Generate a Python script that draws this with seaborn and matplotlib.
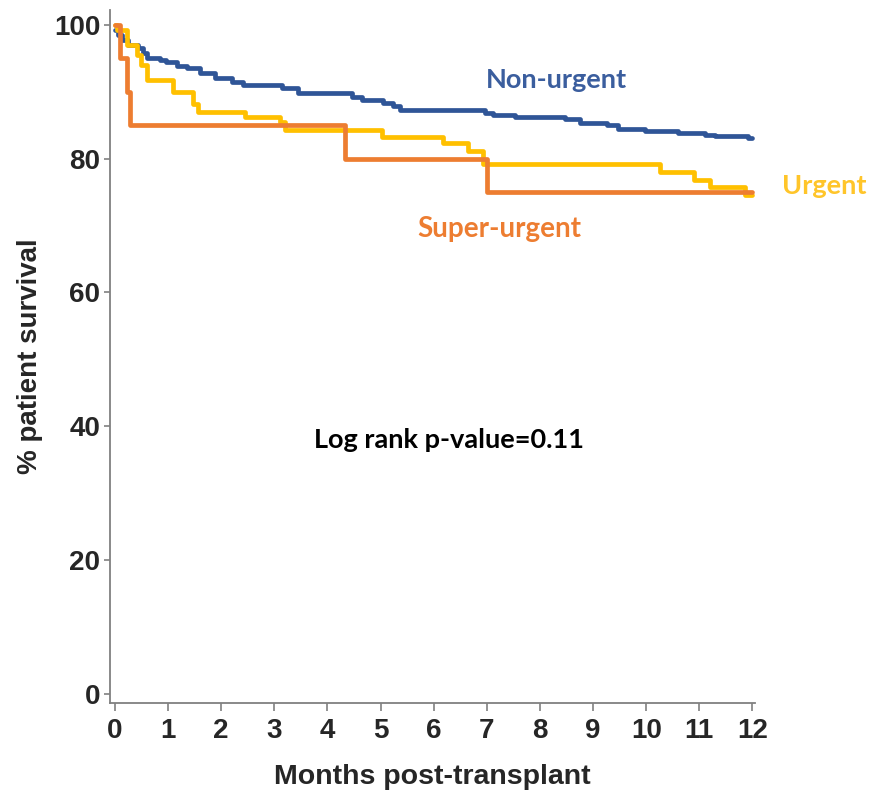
import pandas as pd
import matplotlib.pyplot as plt
import seaborn as sns

# step curves (months, % survival)
non_urgent_t = [0, 0.06, 0.13, 0.25, 0.43, 0.53, 0.6, 0.85, 0.97, 1.16, 1.35, 1.6, 1.88, 2.2,
                2.42, 3.14, 3.45, 4.46, 4.65, 5.05, 5.24, 5.37, 6.97, 7.12, 7.53, 8.47, 8.76,
                9.26, 9.47, 9.98, 10.6, 11.1, 11.3, 11.92, 12]
non_urgent_s = [99.2, 98.5, 97.8, 97.0, 96.5, 95.8, 95.0, 94.8, 94.5, 93.8, 93.5, 92.8, 92.0, 91.5,
                91.0, 90.5, 89.8, 89.2, 88.8, 88.3, 87.8, 87.3, 86.8, 86.5, 86.2, 85.9, 85.4,
                85.0, 84.5, 84.2, 83.9, 83.6, 83.4, 83.1, 83.1]

urgent_t = [0, 0.04, 0.22, 0.41, 0.5, 0.6, 1.1, 1.47, 1.56, 2.45, 3.1, 3.2, 5.02, 6.18, 6.65,
            6.93, 10.26, 10.9, 11.2, 11.86, 12]
urgent_s = [100, 99.2, 97.0, 95.5, 94.0, 91.8, 90.0, 88.2, 87.0, 86.3, 85.5, 84.3, 83.3, 82.3, 81.2,
            79.2, 78.0, 76.8, 75.8, 74.6, 74.6]

super_t = [0, 0.09, 0.22, 0.28, 4.33, 7.0, 12]
super_s = [100, 95, 90, 85, 80, 75, 75]

groups = ['Non-urgent', 'Urgent', 'Super-urgent']
colors = {'Non-urgent': '#2F5597', 'Urgent': '#FFC000', 'Super-urgent': '#ED7D31'}
text_colors = {'Non-urgent': '#3B5E9E', 'Urgent': '#FFC52A', 'Super-urgent': '#ED7D31'}

df = pd.concat([
    pd.DataFrame({'months': non_urgent_t, 'survival': non_urgent_s, 'group': 'Non-urgent'}),
    pd.DataFrame({'months': urgent_t, 'survival': urgent_s, 'group': 'Urgent'}),
    pd.DataFrame({'months': super_t, 'survival': super_s, 'group': 'Super-urgent'}),
], ignore_index=True)

sns.set_style('white')
plt.rcParams['font.family'] = ['Liberation Sans', 'DejaVu Sans']

fig = plt.figure(figsize=(8.72, 8.02), dpi=100)
ax = fig.add_axes([0.126, 0.1234, 0.74, 0.864])

sns.lineplot(data=df, x='months', y='survival', hue='group', hue_order=groups,
             palette=colors, estimator=None, sort=False, drawstyle='steps-post',
             linewidth=3.4, legend=False, ax=ax)

ax.set_xlim(-0.094, 12.05)
ax.set_ylim(-1.35, 102.2)
ax.set_xticks(range(0, 13))
ax.set_yticks(range(0, 101, 20))

for side in ['top', 'right']:
    ax.spines[side].set_visible(False)
for side in ['left', 'bottom']:
    ax.spines[side].set_color('#808080')
    ax.spines[side].set_linewidth(1.3)

ax.tick_params(axis='x', direction='out', length=6, width=1.2, color='#808080',
               labelsize=20, pad=5, bottom=True)
ax.tick_params(axis='y', direction='out', length=4, width=1.2, color='#808080',
               labelsize=20, pad=3, left=True)
for lab in ax.get_xticklabels() + ax.get_yticklabels():
    lab.set_fontweight('heavy')

ax.set_xlabel('Months post-transplant', fontsize=20.5, fontweight='bold', labelpad=14)
ax.set_ylabel('% patient survival', fontsize=20, fontweight='bold', labelpad=8)

# curve labels
ann_font = ['Lato', 'DejaVu Sans']
ax.text(8.31, 91.8, 'Non-urgent', color=text_colors['Non-urgent'], fontsize=19.5,
        fontweight='bold', family=ann_font, ha='center', va='center', clip_on=False)
ax.text(13.35, 75.9, 'Urgent', color=text_colors['Urgent'], fontsize=19.5,
        fontweight='bold', family=ann_font, ha='center', va='center', clip_on=False)
ax.text(7.24, 69.5, 'Super-urgent', color=text_colors['Super-urgent'], fontsize=20,
        fontweight='bold', family=ann_font, ha='center', va='center', clip_on=False)
ax.text(6.28, 38.0, 'Log rank p-value=0.11', color='black', fontsize=19.5,
        fontweight='bold', family=ann_font, ha='center', va='center')

fig.savefig('out.png', dpi=100)
